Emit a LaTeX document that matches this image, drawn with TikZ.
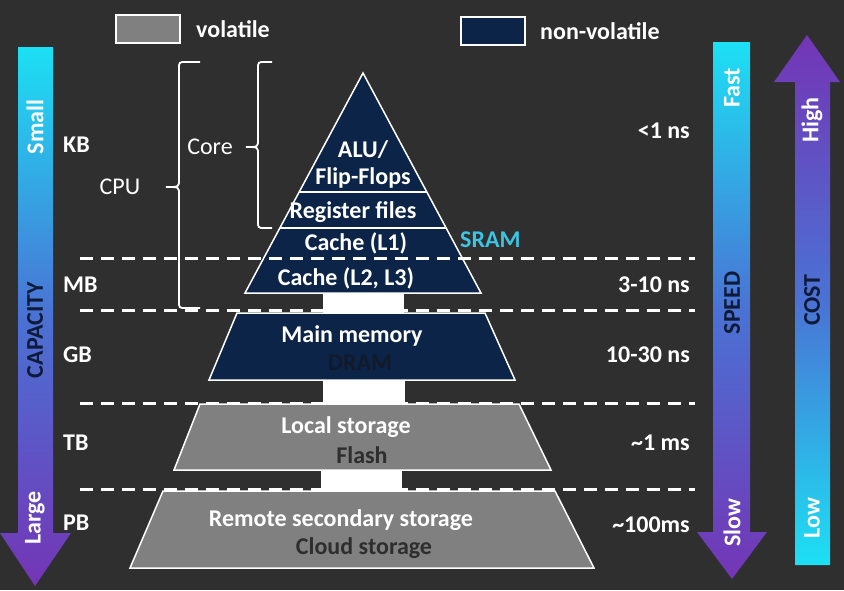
\documentclass[tikz,border=0pt]{standalone}
\usepackage{fontspec}
\setmainfont{Carlito}
\definecolor{bg}{HTML}{2F2F2F}
\definecolor{navy}{HTML}{0B2447}
\definecolor{vgray}{HTML}{808080}
\definecolor{acyan}{HTML}{1CE0F4}
\definecolor{apurple}{HTML}{7435B5}
\definecolor{amid}{HTML}{4A72D4}
\definecolor{darktxt}{HTML}{0E1A38}
\definecolor{graytxt}{HTML}{2E2E2E}
\definecolor{dramtxt}{HTML}{121A2A}
\definecolor{sramc}{HTML}{3CC4E4}
\begin{document}
\begin{tikzpicture}[x=1pt,y=-1pt,
  txt/.style={inner sep=0pt, font=\bfseries\fontsize{24}{28}\selectfont, text=white},
  rtxt/.style={inner sep=0pt, font=\fontsize{24}{28}\selectfont, text=white},
  sep/.style={white, line width=3pt, dash pattern=on 13pt off 8pt},
  layer/.style={draw=white, line width=1.5pt},
  block/.style={fill=white},
  bracepath/.style={white, line width=1.8pt},
  legendbox/.style={draw=white, line width=1.5pt, minimum width=64pt, minimum height=28pt, inner sep=0pt}]
\fill[bg] (0,0) rectangle (844,590);
\useasboundingbox (0,0) rectangle (844,590);

% legend
\node[legendbox, fill=vgray] (lv) at (148,29) {};
\node[txt, anchor=west] (lvt) at (196,29) {volatile};
\node[legendbox, fill=navy] (lnv) at (493,31) {};
\node[txt, anchor=west] (lnvt) at (540,31) {non-volatile};

% capacity arrow
\shade[top color=acyan, bottom color=apurple, middle color=amid]
  (18,47) -- (53,47) -- (53,533) -- (71,533) -- (35,586) -- (0,533) -- (18,533) -- cycle;
\node[txt, rotate=90] (small) at (35,127) {Small};
\node[txt, rotate=90, text=darktxt] (capacity) at (35,330) {CAPACITY};
\node[txt, rotate=90] (large) at (35,518) {Large};

% speed arrow
\shade[top color=acyan, bottom color=apurple, middle color=amid]
  (713,42) -- (750,42) -- (750,532) -- (767,532) -- (732,579) -- (697,532) -- (713,532) -- cycle;
\node[txt, rotate=90] (fast) at (732,88) {Fast};
\node[txt, rotate=90, text=darktxt] (speed) at (732,303) {SPEED};
\node[txt, rotate=90] (slow) at (732,523) {Slow};

% cost arrow
\shade[top color=apurple, bottom color=acyan, middle color=amid]
  (807,35) -- (840,82) -- (830,82) -- (830,565) -- (795,565) -- (795,82) -- (774,82) -- cycle;
\node[txt, rotate=90] (high) at (812,120) {High};
\node[txt, rotate=90, text=darktxt] (cost) at (812,300) {COST};
\node[txt, rotate=90] (low) at (812,518) {Low};

% level labels
\node[txt, anchor=west] (kb) at (63,145) {KB};
\node[txt, anchor=west] (mb) at (63,285) {MB};
\node[txt, anchor=west] (gb) at (63,355) {GB};
\node[txt, anchor=west] (tb) at (63,443) {TB};
\node[txt, anchor=west] (pb) at (63,523) {PB};

% time labels
\node[txt, anchor=east] (t1) at (690,131) {<1 ns};
\node[txt, anchor=east] (t2) at (690,285) {3-10 ns};
\node[txt, anchor=east] (t3) at (690,355) {10-30 ns};
\node[txt, anchor=east] (t4) at (690,443) {\textasciitilde1 ms};
\node[txt, anchor=east] (t5) at (690,525) {\textasciitilde100ms};

% pyramid top triangle
\filldraw[fill=navy, layer] (363,73) -- (481,293) -- (245,293) -- cycle;
\draw[white, line width=2.5pt] (299,192) -- (427,192);
\draw[white, line width=2.5pt] (280,228) -- (446,228);

% dashed separators
\draw[sep] (80,258) -- (695,258);
\draw[sep] (80,310) -- (695,310);
\draw[sep] (80,403) -- (695,403);
\draw[sep] (80,489) -- (695,489);

% white connecting blocks
\fill[block] (323,293) rectangle (404,313);
\fill[block] (323,380) rectangle (405,404);
\fill[block] (321,470) rectangle (402,491);

% lower layers
\filldraw[fill=navy, layer] (237,313) -- (485,313) -- (515,380) -- (209,380) -- cycle;
\filldraw[fill=vgray, layer] (200,404) -- (519,404) -- (551,470) -- (174,470) -- cycle;
\filldraw[fill=vgray, layer] (163,491) -- (555,491) -- (594,568) -- (130,568) -- cycle;

% pyramid texts
\node[txt] (alu) at (363,150) {ALU/};
\node[txt] (ff) at (363,178) {Flip-Flops};
\node[txt] (reg) at (353,212) {Register files};
\node[txt] (l1) at (356,243) {Cache (L1)};
\node[txt] (l23) at (346,278) {Cache (L2, L3)};
\node[txt, text=sramc, anchor=west] (sram) at (460,240) {SRAM};
\node[txt] (mm) at (352,336) {Main memory};
\node[txt, text=dramtxt] (dram) at (360,363) {DRAM};
\node[txt] (ls) at (346,427) {Local storage};
\node[txt, text=graytxt] (flash) at (362,455) {Flash};
\node[txt] (rss) at (341,520) {Remote secondary storage};
\node[txt, text=graytxt] (cloud) at (364,548) {Cloud storage};

% braces
\draw[bracepath] (272,62) -- (265,62) .. controls (258,62) .. (258,69) -- (258,140)
  .. controls (258,147) .. (246,147) .. controls (258,147) .. (258,154) -- (258,221)
  .. controls (258,228) .. (265,228) -- (272,228);
\node[rtxt] (core) at (210,147) {Core};
\draw[bracepath] (200,62) -- (186,62) .. controls (179,62) .. (179,69) -- (179,180)
  .. controls (179,187) .. (166,187) .. controls (179,187) .. (179,194) -- (179,301)
  .. controls (179,308) .. (186,308) -- (200,308);
\node[rtxt] (cpu) at (120,187) {CPU};
\end{tikzpicture}
\end{document}
